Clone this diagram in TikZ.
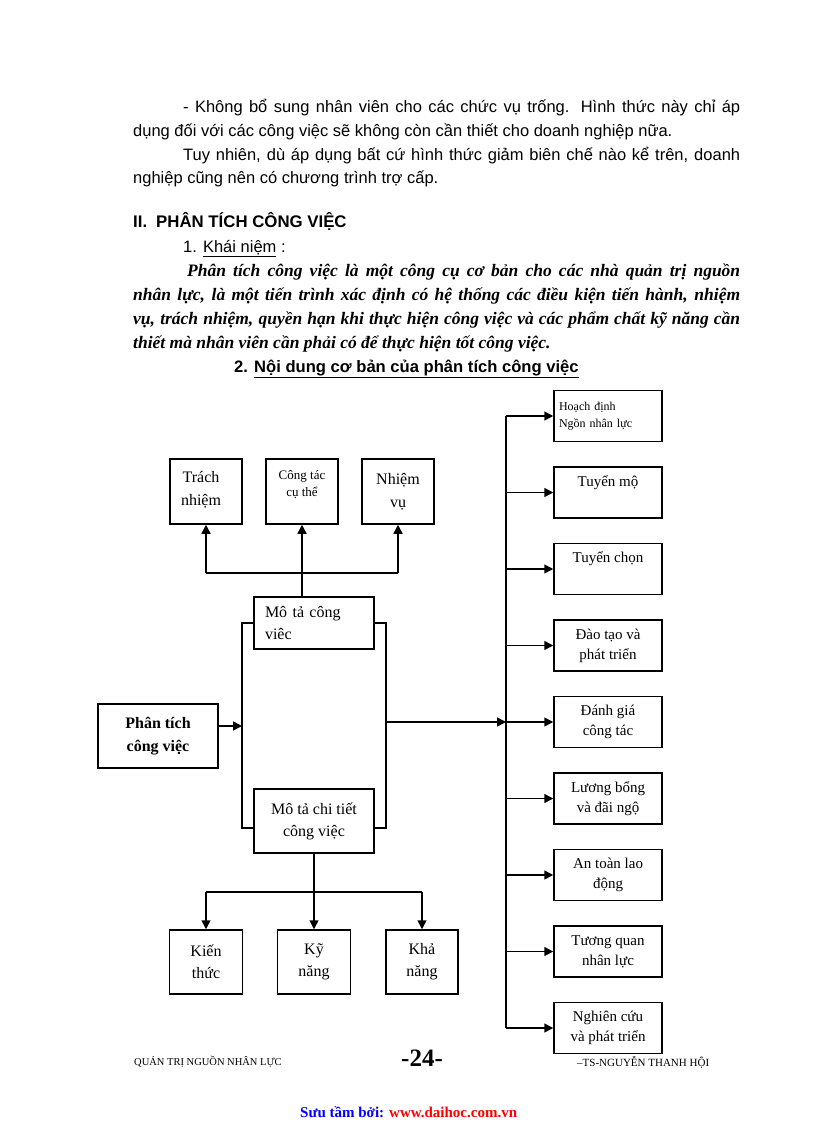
\documentclass[tikz,border=0pt]{standalone}
\usepackage{fontspec}
\setmainfont{Liberation Serif}
\newfontfamily\arial{Liberation Sans}
\usetikzlibrary{arrows.meta,calc}
\begin{document}
\begin{tikzpicture}[x=1pt,y=-1pt,
  box/.style={draw, line width=1.5pt, fill=white, align=center, inner sep=0pt, font=\fontsize{15}{20}\selectfont},
  rbox/.style={box, minimum width=108pt, minimum height=51pt},
  bbox/.style={box, minimum width=73pt, minimum height=64pt, font=\fontsize{16}{22}\selectfont},
  tbox/.style={box, minimum width=72pt, minimum height=65pt, font=\fontsize{16}{23}\selectfont},
  mbox/.style={box, minimum width=120pt, font=\fontsize{16}{22}\selectfont},
  conn/.style={line width=1.5pt},
  arr/.style={line width=1.5pt, -{Triangle[length=9pt,width=9pt]}},
  body/.style={anchor=base west, inner sep=0pt, font=\arial\fontsize{16.5}{20}\selectfont},
  ital/.style={anchor=base west, inner sep=0pt, font=\bfseries\itshape\fontsize{17.5}{20}\selectfont},
  foot/.style={inner sep=0pt, font=\fontsize{10.5}{12}\selectfont},
]
\useasboundingbox (0,0) rectangle (816,1123);
\fill[white] (0,0) rectangle (816,1123);

% ---- body text ----
\node[body] (l1) at (183,113) {\makebox[557pt][s]{- Không bổ sung nhân viên cho các chức vụ trống. Hình thức này chỉ áp}};
\node[body] (l2) at (133,137) {dụng đối với các công việc sẽ không còn cần thiết cho doanh nghiệp nữa.};
\node[body] (l3) at (183,161) {\makebox[557pt][s]{Tuy nhiên, dù áp dụng bất cứ hình thức giảm biên chế nào kể trên, doanh}};
\node[body] (l4) at (133,184) {nghiệp cũng nên có chương trình trợ cấp.};
\node[body, font=\arial\bfseries\fontsize{16.8}{20}\selectfont] (h2) at (133,228) {II.\hspace{9pt}PHÂN TÍCH CÔNG VIỆC};
\node[body] (h21) at (183,252) {1. \underline{Khái niệm} :};
\node[ital] (i1) at (187,276) {\makebox[553pt][s]{Phân tích công việc là một công cụ cơ bản cho các nhà quản trị nguồn}};
\node[ital] (i2) at (133,300) {\makebox[607pt][s]{nhân lực, là một tiến trình xác định có hệ thống các điều kiện tiến hành, nhiệm}};
\node[ital] (i3) at (133,324) {\makebox[607pt][s]{vụ, trách nhiệm, quyền hạn khi thực hiện công việc và các phẩm chất kỹ năng cần}};
\node[ital] (i4) at (133,348) {thiết mà nhân viên cần phải có để thực hiện tốt công việc.};
\node[body, font=\arial\bfseries\fontsize{16.6}{20}\selectfont] (h22) at (234,372) {2. \underline{Nội dung cơ bản của phân tích công việc}};

% ---- top boxes ----
\node[tbox] (trach) at (206,491.5) {};
\node[inner sep=0pt, align=center, font=\fontsize{16}{23}\selectfont] (trt) at (201,489.5) {Trách\\nhiệm};
\node[tbox] (ct) at (302,491.5) {};
\node[inner sep=0pt, align=center, font=\fontsize{13}{17}\selectfont] (ctt) at (302,484.5) {Công tác\\cụ thể};
\node[tbox] (nhiem) at (398,491.5) {Nhiệm\\vụ};

% ---- middle ----
\node[mbox, minimum height=52pt, text width=98pt, inner xsep=11pt, align=left] (mota) at (314,623) {Mô tả công\\viêc};
\node[mbox, minimum height=64pt] (chitiet) at (314,821) {Mô tả chi tiết\\công việc};
\node[mbox, minimum height=64pt, font=\bfseries\fontsize{16}{23}\selectfont] (phantich) at (158,736) {Phân tích\\công việc};

% ---- bottom boxes ----
\node[bbox] (kien) at (206,962) {Kiến\\thức};
\node[bbox] (ky) at (314,962) {Kỹ\\năng};
\node[bbox, minimum width=72pt] (kha) at (422,962) {Khả\\năng};

% ---- right boxes ----
\node[rbox, text width=98pt, inner xsep=5pt, align=left, font=\fontsize{12}{17}\selectfont] (r1) at (608,416) {Hoạch định\\Ngồn nhân lực};
\node[rbox] (r2) at (608,492.5) {Tuyển mộ\\\phantom{g}};
\node[rbox] (r3) at (608,569) {Tuyển chọn\\\phantom{g}};
\node[rbox] (r4) at (608,645.5) {Đào tạo và\\phát triển};
\node[rbox] (r5) at (608,722) {Đánh giá\\công tác};
\node[rbox] (r6) at (608,798.5) {Lương bổng\\và đãi ngộ};
\node[rbox] (r7) at (608,875) {An toàn lao\\động};
\node[rbox] (r8) at (608,951.5) {Tương quan\\nhân lực};
\node[rbox] (r9) at (608,1028) {Nghiên cứu\\và phát triển};

% ---- connectors ----
\coordinate (jT) at (302,573);
\draw[conn] (mota.north -| jT) -- (jT);
\draw[conn] (trach.south |- jT) -- (nhiem.south |- jT);
\draw[arr] (trach.south |- jT) -- (trach.south);
\draw[arr] (jT) -- (ct.south);
\draw[arr] (nhiem.south |- jT) -- (nhiem.south);

\coordinate (LT) at (242,623);
\coordinate (LB) at (242,828);
\coordinate (RT) at (386,623);
\coordinate (RB) at (386,828);
\draw[conn] (mota.west) -- (LT) -- (LB) -- (LB -| chitiet.west);
\draw[conn] (mota.east) -- (RT) -- (RB) -- (RB -| chitiet.east);
\coordinate (LA) at (242,726);
\draw[arr] (phantich.east |- LA) -- (LA);

\coordinate (vTop) at (506,416);
\coordinate (vBot) at (506,1028);
\coordinate (RA) at (386,722);
\draw[conn] (vTop) -- (vBot);
\draw[arr] (RA) -- (RA -| vTop);
\foreach \r in {r1,r2,r3,r4,r5,r6,r7,r8,r9}{
  \draw[arr] (\r.west -| vTop) -- (\r.west);
}

\coordinate (jB) at (314,892);
\draw[conn] (kien.north |- jB) -- (kha.north |- jB);
\draw[arr] (kien.north |- jB) -- (kien.north);
\draw[arr] (chitiet.south) -- (ky.north);
\draw[arr] (kha.north |- jB) -- (kha.north);

% ---- footer ----
\node[foot, anchor=west] (f1) at (134,1062) {QUẢN TRỊ NGUỒN NHÂN LỰC};
\node[inner sep=0pt, font=\bfseries\fontsize{25}{28}\selectfont] (f2) at (422,1058) {-24-};
\node[foot, anchor=west, font=\fontsize{11}{12}\selectfont] (f3) at (577,1062) {–TS-NGUYỄN THANH HỘI};
\node[inner sep=0pt, anchor=west, font=\bfseries\fontsize{15}{18}\selectfont] (f4) at (300,1112) {\textcolor{blue}{Sưu tầm bởi:} \textcolor{red}{www.daihoc.com.vn}};
\end{tikzpicture}
\end{document}
